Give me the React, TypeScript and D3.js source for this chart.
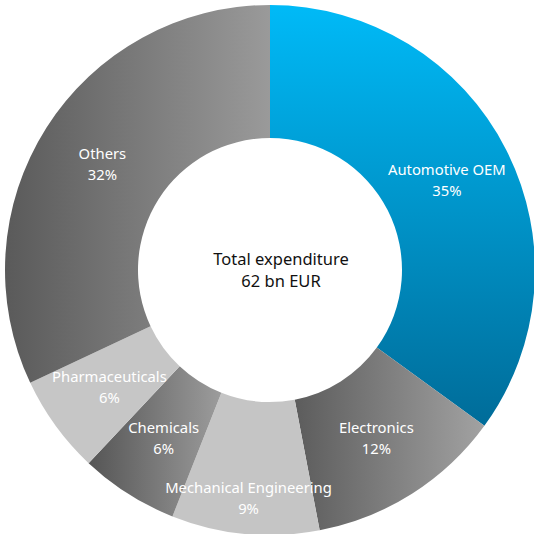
import * as d3 from "d3";

const categories = ["Automotive OEM", "Electronics", "Mechanical Engineering", "Chemicals", "Pharmaceuticals", "Others"];
const shares = [35, 12, 9, 6, 6, 32];
const centerLines = ["Total expenditure", "62 bn EUR"];

// fill per slice: [id, from, to, direction]
const fills: [string, string, string, "v" | "h"][] = [
  ["g0", "#00baf7", "#006c99", "v"],
  ["g1", "#5c5c5c", "#a2a2a2", "h"],
  ["g2", "#c5c5c5", "#c5c5c5", "h"],
  ["g3", "#555555", "#9c9c9c", "h"],
  ["g4", "#c6c6c6", "#c6c6c6", "h"],
  ["g5", "#5a5a5a", "#9a9a9a", "h"],
];

// label pushed outward to avoid overlap
const labelNudge: Record<string, number> = { "Mechanical Engineering": 30 };

const W = 534;
const H = 534;
const cx = 270;
const cy = 270;
const outerR = 265;
const innerR = 132;

export default function App() {
  const pie = d3.pie<number>().sort(null).value((d) => d);
  const arcs = pie(shares);
  const arc = d3.arc<d3.PieArcDatum<number>>().innerRadius(innerR).outerRadius(outerR);
  const labelArc = (r: number) => d3.arc<d3.PieArcDatum<number>>().innerRadius(r).outerRadius(r);
  const font = "'Noto Sans', 'Open Sans', sans-serif";

  return (
    <svg width={W} height={H} style={{ position: "absolute", left: 0, top: 0 }}>
      <defs>
        {fills.map(([id, a, b, dir]) => (
          <linearGradient key={id} id={id} x1="0" y1="0" x2={dir === "h" ? "1" : "0"} y2={dir === "v" ? "1" : "0"}>
            <stop offset="0%" stopColor={a} />
            <stop offset="100%" stopColor={b} />
          </linearGradient>
        ))}
      </defs>
      <g transform={`translate(${cx},${cy})`}>
        {arcs.map((d, i) => (
          <path key={i} d={arc(d) ?? ""} fill={`url(#${fills[i][0]})`} />
        ))}
        {arcs.map((d, i) => {
          const r = (innerR + outerR) / 2 + (labelNudge[categories[i]] ?? 0);
          const [x, y] = labelArc(r).centroid(d);
          return (
            <text key={i} x={x} y={y} textAnchor="middle" fill="#fff" fontFamily={font} fontSize={14.8}>
              <tspan x={x} dy="-0.3em">{categories[i]}</tspan>
              <tspan x={x} dy="1.42em">{shares[i]}%</tspan>
            </text>
          );
        })}
        <text textAnchor="middle" fill="#111" fontFamily={font} fontSize={16.5}>
          <tspan x={11} dy="-0.3em">{centerLines[0]}</tspan>
          <tspan x={11} dy="1.35em">{centerLines[1]}</tspan>
        </text>
      </g>
    </svg>
  );
}
